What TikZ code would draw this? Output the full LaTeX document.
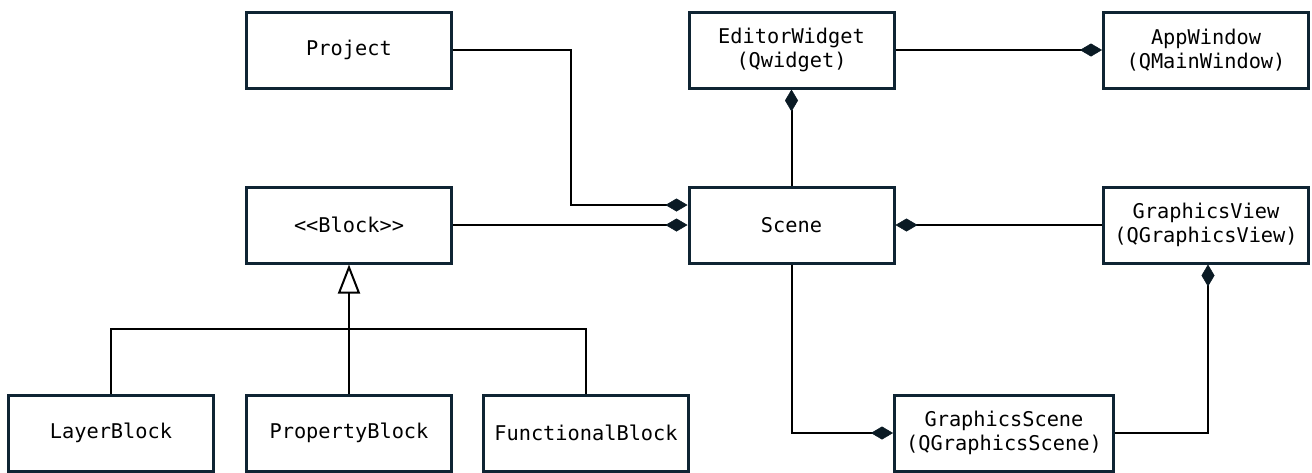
\documentclass[tikz,border=0pt]{standalone}
\usepackage{fontspec}
\setmonofont{DejaVu Sans Mono}
\usetikzlibrary{arrows.meta}
\definecolor{boxline}{HTML}{0F2433}
\definecolor{dia}{HTML}{0A1A24}
\begin{document}
\begin{tikzpicture}[x=1pt,y=-1pt,
  cls/.style={draw=boxline,line width=3pt,fill=white,minimum width=205pt,minimum height=76pt,
    align=center,inner sep=0pt,font=\ttfamily\fontsize{20.3}{24}\selectfont},
  conn/.style={draw=black,line width=2pt},
  comp/.style={conn,-{Diamond[length=22pt,width=13pt,fill=dia,color=dia,line width=0.5pt]}},
  gen/.style={conn,-{Triangle[open,length=29pt,width=22pt,line width=2pt,fill=white]}}]
\useasboundingbox (0,0) rectangle (1312,472);
\node[cls] (project) at (349,50) {Project};
\node[cls] (editor) at (791.5,50) {EditorWidget\\(Qwidget)};
\node[cls] (app) at (1206,50) {AppWindow\\(QMainWindow)};
\node[cls] (block) at (349,225) {<{}<Block>{}>};
\node[cls] (scene) at (791.5,225) {Scene};
\node[cls] (gview) at (1206,225) {GraphicsView\\(QGraphicsView)};
\node[cls] (layer) at (111,433) {LayerBlock};
\node[cls] (prop) at (349,433) {PropertyBlock};
\node[cls] (func) at (586,433) {FunctionalBlock};
\node[cls,minimum width=219pt] (gscene) at (1004,433) {GraphicsScene\\(QGraphicsScene)};
\coordinate (j) at (349,329);
\coordinate (pbend) at (571,205);
\coordinate (gbend) at (1208,433);
% composition connectors
\draw[comp] (project.east) -| (pbend) -- (scene.west |- pbend);
\draw[comp] (block.east) -- (scene.west);
\draw[comp] (scene.north) -- (editor.south);
\draw[comp] (editor.east) -- (app.west);
\draw[comp] (gview.west) -- (scene.east);
\draw[comp] (scene.south) |- (gscene.west);
\draw[comp] (gscene.east) -| (gview.south -| gbend);
% generalisation
\draw[conn] (layer.north) |- (j) -| (func.north);
\draw[conn] (prop.north) -- (j);
\draw[gen] (j) -- (block.south);
\end{tikzpicture}
\end{document}
